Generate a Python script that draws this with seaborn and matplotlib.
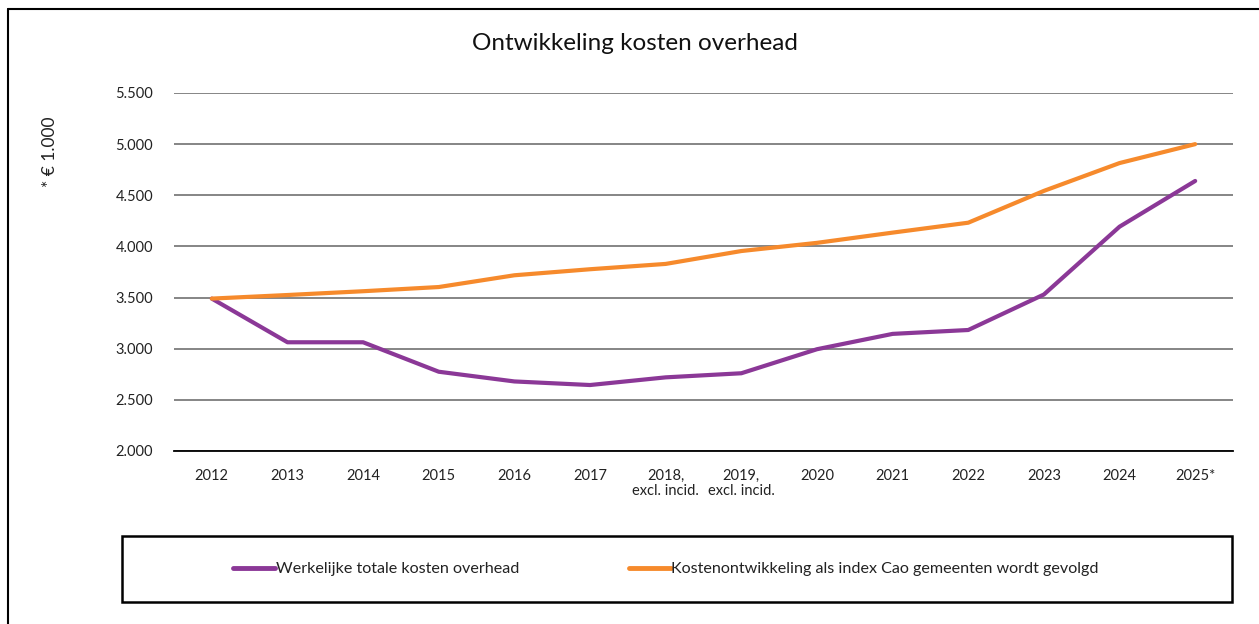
import matplotlib
matplotlib.use("Agg")
import matplotlib.pyplot as plt
import seaborn as sns
import pandas as pd
from matplotlib.ticker import FuncFormatter
from matplotlib.lines import Line2D
from matplotlib.patches import Rectangle

years = ["2012", "2013", "2014", "2015", "2016", "2017", "2018,\nexcl. incid.",
         "2019,\nexcl. incid.", "2020", "2021", "2022", "2023", "2024", "2025*"]
werkelijk = [3490, 3063, 3063, 2775, 2680, 2645, 2720, 2760, 2995, 3145, 3183, 3530, 4193, 4640]
index_cao = [3490, 3525, 3562, 3603, 3718, 3777, 3829, 3955, 4035, 4135, 4232, 4543, 4815, 5000]
series_names = ["Werkelijke totale kosten overhead",
                "Kostenontwikkeling als index Cao gemeenten wordt gevolgd"]
colors = ["#8B3897", "#F68A2C"]

df = pd.DataFrame({
    "jaar": years * 2,
    "waarde": werkelijk + index_cao,
    "reeks": [series_names[0]] * len(years) + [series_names[1]] * len(years),
})

sns.set_theme(style="white")
plt.rcParams["font.family"] = ["Lato", "DejaVu Sans"]

fig = plt.figure(figsize=(12.59, 6.24), dpi=100)
ax = fig.add_axes([174 / 1259, 1 - 451 / 624, (1233 - 174) / 1259, (451 - 93) / 624])

sns.lineplot(data=df, x="jaar", y="waarde", hue="reeks", palette=colors,
             linewidth=3, sort=False, ax=ax, legend=True)
handles, labels = ax.get_legend_handles_labels()
ax.get_legend().remove()

ax.set_ylim(2000, 5500)
ax.set_xlim(-0.5, len(years) - 0.5)
ax.set_yticks([2000, 2500, 3000, 3500, 4000, 4500, 5000, 5500])
ax.yaxis.set_major_formatter(FuncFormatter(lambda v, p: f"{int(v):,}".replace(",", ".")))
ax.grid(axis="y", color="#858585", linewidth=1.4)
ax.grid(axis="x", visible=False)
ax.set_axisbelow(True)
for s in ["top", "right", "left"]:
    ax.spines[s].set_visible(False)
ax.spines["bottom"].set_color("black")
ax.spines["bottom"].set_linewidth(1.3)
ax.tick_params(axis="y", length=0, pad=15, labelsize=10.5, colors="#222222")
ax.tick_params(axis="x", length=0, pad=13, labelsize=10.5, colors="#222222")
for lab in ax.get_xticklabels():
    lab.set_linespacing(1.05)
ax.set_xlabel("")
ax.set_ylabel("")

fig.text(50 / 1259, 1 - 152 / 624, "* € 1.000", rotation=90, ha="center", va="center",
         fontsize=12.5, color="#222222")
fig.text(635 / 1259, 1 - 43 / 624, "Ontwikkeling kosten overhead", ha="center", va="center",
         fontsize=17.5, color="#111111")

# legend box
fig.patches.append(Rectangle((122 / 1259, 1 - 602 / 624), (1232 - 122) / 1259, 66 / 624,
                             transform=fig.transFigure, fill=False, edgecolor="black",
                             linewidth=1.8, zorder=5))
leg = fig.legend(handles, labels, loc="center", bbox_to_anchor=(666 / 1259, 1 - 569 / 624),
                 ncol=2, frameon=False, fontsize=11.6, handlelength=2.6, handletextpad=0.05,
                 columnspacing=6.8)
for t in leg.get_texts():
    t.set_color("#222222")
for h in leg.get_lines():
    h.set_linewidth(3.5)

# outer border
fig.add_artist(Line2D([8 / 1259, 8 / 1259], [0, 1 - 9 / 624], transform=fig.transFigure,
                      color="black", linewidth=1.5))
fig.add_artist(Line2D([8 / 1259, 1], [1 - 9 / 624, 1 - 9 / 624], transform=fig.transFigure,
                      color="black", linewidth=1.5))

fig.savefig("out.png", dpi=100)
